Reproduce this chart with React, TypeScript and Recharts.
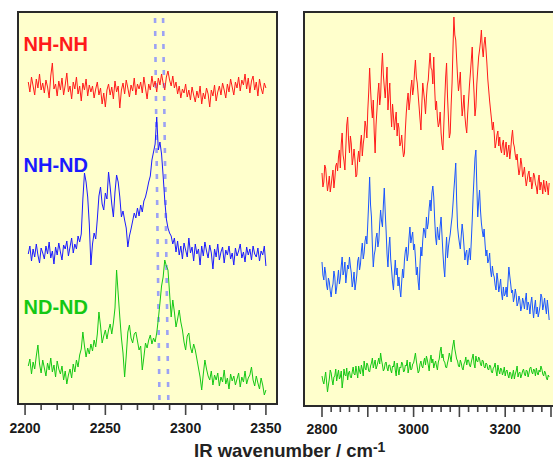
import React from 'react';
import {
  CartesianGrid,
  Line,
  LineChart,
  ReferenceArea,
  ReferenceLine,
  XAxis,
  YAxis,
} from 'recharts';

// left panel: wavenumbers 2202..2350, step 1
const LEFT_START = 2202;
const LEFT_STEP = 1;

// intensities, stacked (height above the panel floor)
const LEFT_NHNH = [
  322, 312, 327, 318, 309, 325, 316, 330, 314, 321,
  311, 324, 317, 306, 328, 341, 315, 320, 308, 323,
  314, 326, 309, 319, 331, 312, 318, 305, 322, 315,
  327, 310, 318, 303, 321, 314, 325, 308, 319, 312,
  318, 306, 315, 322, 309, 316, 300, 311, 297, 314,
  320, 309, 317, 305, 323, 312, 318, 296, 314, 321,
  310, 324, 316, 307, 319, 313, 326, 309, 320, 315,
  322, 311, 327, 316, 305, 320, 314, 328, 317, 323,
  312, 326, 319, 330, 321, 314, 327, 333, 324, 318,
  328, 316, 322, 310, 318, 306, 315, 311, 320, 307,
  314, 304, 317, 309, 302, 313, 306, 318, 300, 311,
  305, 316, 310, 297, 314, 308, 319, 303, 312, 318,
  309, 321, 314, 306, 320, 312, 325, 317, 309, 322,
  316, 327, 313, 324, 319, 330, 315, 326, 311, 323,
  328, 314, 322, 308, 325, 316, 310, 321, 316,
];

const LEFT_NHND = [
  150, 158, 143, 155, 147, 160, 149, 141, 156, 151,
  145, 158, 150, 162, 146, 153, 140, 157, 149, 161,
  152, 144, 159, 155, 163, 148, 157, 166, 151, 160,
  155, 168, 162, 170, 205,
  231, 222, 207, 180, 139, 160, 171, 165, 185, 208,
  217, 200, 194, 211, 205, 232, 217, 200, 187, 212,
  229, 222, 207, 187, 193, 184, 176, 157, 168, 175,
  183, 191, 186, 196, 188, 199, 192, 203, 207, 214,
  222, 228, 244, 252, 260, 287, 254, 262, 250, 228,
  204, 185, 176, 171, 168, 160, 166,
  152, 163, 149, 158, 145, 161, 154, 147, 166, 151,
  157, 143, 160, 150, 155, 139, 158, 148, 162, 153,
  146, 159, 151, 135, 155, 147, 160, 144, 152, 157,
  141, 154, 149, 158, 145, 151, 139, 156, 148, 153,
  160, 146, 152, 142, 157, 149, 155, 144, 158, 150,
  147, 156, 143, 153, 149, 158, 138,
];

const LEFT_NDND = [
  38, 45, 30, 42, 35, 48, 59, 40, 31, 44,
  36, 28, 41, 34, 46, 32, 39, 27, 43, 35,
  30, 38, 24, 33, 20, 29, 35, 26, 40, 32,
  44, 37, 49, 55, 72, 58, 47, 56, 50, 60,
  53, 64, 57, 70, 92, 78, 61, 68, 74, 65,
  74, 80, 70, 81, 96, 134, 110, 87, 66, 51,
  27, 48, 72, 79, 66, 61, 70, 72, 63, 54,
  58, 34, 47, 61, 56, 64, 69, 60, 66, 62,
  71, 85, 101, 118, 127, 144, 138, 134, 111, 87,
  104, 92, 77, 85, 94, 82, 74, 62, 54, 68,
  71, 57, 51, 60, 54, 45, 36, 27, 14, 30,
  44, 35, 28, 24, 33, 19, 29, 24, 31, 18,
  27, 22, 34, 20, 26, 15, 30, 23, 28, 19,
  25, 31, 17, 27, 22, 33, 20, 26, 29, 37,
  24, 18, 28, 21, 15, 26, 19, 9, 14,
];

// right panel: wavenumbers 2800..3296, step 2
const RIGHT_START = 2800;
const RIGHT_STEP = 2;

const RIGHT_NHNH = [
  233, 219, 224, 241, 238, 226, 215, 222, 230, 214, 221, 229, 236, 218, 227, 240, 243, 235, 249, 256,
  238, 262, 273, 251, 245, 236, 258, 281, 289, 266, 253, 270, 262, 241, 248, 257, 246, 229, 231, 247,
  255, 244, 263, 271, 250, 262, 269, 285, 279, 268, 296, 314, 338, 317, 299, 288, 306, 274, 253, 281,
  296, 312, 323, 301, 310, 336, 353, 331, 319, 308, 323, 339, 296, 311, 323, 297, 279, 302, 290, 276,
  286, 294, 270, 283, 278, 260, 263, 271, 258, 249, 253, 276, 293, 305, 313, 296, 305, 318, 326, 311,
  318, 334, 346, 329, 323, 311, 299, 287, 276, 302, 323, 314, 305, 292, 309, 321, 326, 341, 353, 338,
  336, 322, 349, 318, 296, 305, 288, 279, 283, 294, 273, 262, 256, 281, 306, 329, 343, 310, 289, 268,
  273, 301, 323, 358, 389, 371, 366, 347, 329, 315, 323, 334, 309, 290, 299, 311, 290, 280, 273, 292,
  306, 321, 333, 346, 359, 331, 313, 290, 299, 322, 336, 349, 356, 364, 376, 358, 349, 362, 369, 357,
  343, 327, 316, 305, 296, 287, 276, 284, 273, 258, 263, 271, 275, 260, 269, 257, 253, 262, 266, 251,
  258, 264, 249, 255, 261, 247, 256, 268, 276, 263, 259, 251, 246, 252, 240, 231, 236, 248, 242, 229,
  233, 239, 228, 220, 226, 232, 235, 224, 229, 217, 223, 233, 230, 222, 219, 212, 225, 231, 216, 224,
  221, 212, 226, 218, 214, 225, 219, 211, 223,
];

const RIGHT_NHND = [
  144, 131, 126, 139, 133, 121, 116, 128, 124, 115, 109, 118, 122, 135, 129, 112, 118, 127, 136, 122,
  128, 140, 149, 131, 135, 144, 123, 132, 141, 137, 149, 140, 133, 119, 125, 134, 116, 123, 131, 145,
  149, 136, 142, 155, 163, 147, 153, 165, 170, 162, 183, 204, 229, 201, 189, 160, 139, 151, 156, 168,
  173, 159, 165, 182, 196, 185, 179, 201, 218, 194, 175, 152, 139, 158, 169, 147, 136, 124, 116, 132,
  146, 131, 138, 120, 129, 117, 109, 124, 137, 128, 146, 155, 159, 145, 152, 168, 179, 163, 169, 174,
  156, 162, 148, 131, 139, 124, 116, 141, 159, 150, 166, 178, 175, 168, 189, 177, 183, 198, 206, 195,
  213, 220, 209, 187, 169, 161, 179, 170, 166, 180, 189, 171, 153, 139, 129, 152, 169, 148, 159, 166,
  172, 181, 189, 202, 216, 229, 243, 206, 179, 170, 163, 157, 170, 182, 173, 160, 146, 153, 156, 141,
  150, 158, 146, 165, 186, 210, 229, 248, 256, 221, 189, 204, 216, 196, 183, 175, 169, 177, 162, 150,
  156, 143, 146, 153, 136, 129, 140, 132, 129, 121, 116, 133, 126, 114, 120, 127, 113, 106, 119, 110,
  112, 119, 109, 124, 139, 130, 122, 113, 116, 104, 109, 117, 111, 100, 103, 110, 106, 95, 99, 108,
  104, 97, 106, 113, 96, 104, 101, 92, 103, 109, 97, 88, 99, 106, 92, 99, 89, 94, 100, 112,
  109, 96, 101, 108, 99, 92, 106, 97, 86,
];

const RIGHT_NDND = [
  30, 25, 22, 28, 34, 24, 14, 21, 27, 36, 33, 26, 21, 29, 30, 37, 25, 31, 36, 27,
  29, 35, 18, 26, 37, 31, 30, 38, 26, 33, 35, 29, 28, 34, 39, 32, 31, 40, 34, 28,
  40, 35, 32, 41, 37, 30, 45, 38, 36, 43, 41, 35, 34, 40, 43, 48, 38, 42, 46, 37,
  40, 44, 48, 42, 53, 46, 41, 35, 37, 43, 44, 38, 35, 41, 41, 36, 33, 40, 39, 45,
  36, 30, 43, 37, 31, 39, 38, 44, 42, 34, 35, 41, 40, 46, 33, 38, 44, 36, 37, 42,
  43, 48, 53, 45, 39, 33, 35, 42, 45, 40, 38, 44, 48, 41, 50, 46, 41, 35, 46, 51,
  43, 47, 38, 42, 45, 40, 36, 44, 47, 55, 59, 48, 52, 45, 44, 39, 38, 43, 47, 53,
  49, 44, 55, 61, 66, 57, 52, 47, 45, 40, 39, 46, 43, 38, 36, 42, 44, 49, 41, 46,
  46, 41, 39, 44, 48, 52, 42, 38, 50, 45, 44, 49, 47, 42, 40, 46, 45, 39, 38, 43,
  42, 37, 36, 41, 40, 34, 33, 38, 39, 43, 35, 30, 41, 36, 32, 38, 37, 31, 34, 39,
  30, 35, 36, 31, 28, 34, 33, 27, 31, 36, 27, 32, 35, 40, 29, 33, 34, 28, 31, 35,
  37, 32, 30, 36, 35, 29, 33, 38, 39, 34, 32, 37, 36, 30, 38, 33, 31, 36, 34, 40,
  37, 32, 30, 35, 33, 28, 26, 31, 29,
];

const LEFT_TICKS = [
  2200, 2210, 2220, 2230, 2240, 2250, 2260, 2270, 2280, 2290, 2300, 2310,
  2320, 2330, 2340, 2350,
];
const RIGHT_TICKS = [
  2800, 2820, 2840, 2860, 2880, 2900, 2920, 2940, 2960, 2980, 3000, 3020,
  3040, 3060, 3080, 3100, 3120, 3140, 3160, 3180, 3200, 3220, 3240, 3260,
  3280, 3300, 3320,
];

// dotted markers in the left panel (bottom x, top x)
const MARKERS = [
  [2283.7, 2280.9],
  [2289.2, 2285.9],
];

const LABELS = [
  { text: 'NH-NH', color: '#ff1a1a' },
  { text: 'NH-ND', color: '#1a1aff' },
  { text: 'ND-ND', color: '#14c814' },
];

const leftRows = LEFT_NHNH.map((v, i) => ({
  wn: LEFT_START + i * LEFT_STEP,
  nhnh: v,
  nhnd: LEFT_NHND[i],
  ndnd: LEFT_NDND[i],
}));

const rightRows = RIGHT_NHNH.map((v, i) => ({
  wn: RIGHT_START + i * RIGHT_STEP,
  nhnh: v,
  nhnd: RIGHT_NHND[i],
  ndnd: RIGHT_NDND[i],
}));

const FONT = '"Liberation Sans", Arial, Helvetica, sans-serif';

const makeTick =
  (majorEvery: number, labelEvery: number, dy: number) => (props: any) => {
    const { x, y, payload } = props;
    const v = payload.value;
    const major = v % majorEvery === 0;
    return (
      <g>
        <line
          x1={x}
          x2={x}
          y1={y + 1}
          y2={y + (major ? 11 : 6)}
          stroke="#444"
          strokeWidth={1.6}
        />
        {v % labelEvery === 0 && (
          <text
            x={x}
            y={y + dy}
            textAnchor="middle"
            fontFamily={FONT}
            fontWeight="bold"
            fontSize={14}
            fill="#1a1a1a"
          >
            {v}
          </text>
        )}
      </g>
    );
  };

const LEFT_DOMAIN = [2195.6, 2356.9];
const RIGHT_DOMAIN = [2760.7, 3326.2];

export default function App() {
  return (
    <div
      style={{
        position: 'absolute',
        left: 0,
        top: 0,
        width: 553,
        height: 460,
        overflow: 'hidden',
        background: '#fff',
      }}
    >
      <div style={{ position: 'absolute', left: 0, top: 0 }}>
        <LineChart
          width={290}
          height={460}
          data={leftRows}
          margin={{ top: 12, right: 13, bottom: 26, left: 18 }}
        >
          <CartesianGrid
            horizontal={false}
            vertical={false}
            fill="#ffffcc"
            fillOpacity={1}
          />
          <XAxis
            dataKey="wn"
            type="number"
            domain={LEFT_DOMAIN}
            ticks={LEFT_TICKS}
            interval={0}
            allowDataOverflow
            axisLine={false}
            tickLine={false}
            tickSize={0}
            tickMargin={0}
            height={30}
            tick={makeTick(50, 50, 29)}
          />
          <YAxis hide type="number" domain={[0, 392]} allowDataOverflow />
          {MARKERS.map(([b, t], i) => (
            <ReferenceLine
              key={i}
              segment={[
                { x: b, y: 4 },
                { x: t, y: 392 },
              ]}
              stroke="#9ca2f4"
              strokeWidth={2.6}
              strokeDasharray="5 8"
              ifOverflow="visible"
            />
          ))}
          <Line
            dataKey="nhnh"
            stroke="#ff1a1a"
            strokeWidth={1}
            dot={false}
            isAnimationActive={false}
          />
          <Line
            dataKey="nhnd"
            stroke="#1a1aff"
            strokeWidth={1}
            dot={false}
            isAnimationActive={false}
          />
          <Line
            dataKey="ndnd"
            stroke="#14c814"
            strokeWidth={1}
            dot={false}
            isAnimationActive={false}
          />
          <ReferenceArea
            x1={LEFT_DOMAIN[0]}
            x2={LEFT_DOMAIN[1]}
            y1={0}
            y2={392}
            fill="none"
            stroke="#2a2a2a"
            strokeWidth={2}
            ifOverflow="visible"
          />
        </LineChart>
      </div>

      <div style={{ position: 'absolute', left: 290, top: 0 }}>
        <LineChart
          width={300}
          height={460}
          data={rightRows}
          margin={{ top: 12, right: 27, bottom: 24, left: 14 }}
        >
          <CartesianGrid
            horizontal={false}
            vertical={false}
            fill="#ffffcc"
            fillOpacity={1}
          />
          <XAxis
            dataKey="wn"
            type="number"
            domain={RIGHT_DOMAIN}
            ticks={RIGHT_TICKS}
            interval={0}
            allowDataOverflow
            axisLine={false}
            tickLine={false}
            tickSize={0}
            tickMargin={0}
            height={30}
            tick={makeTick(100, 200, 28)}
          />
          <YAxis hide type="number" domain={[0, 394]} allowDataOverflow />
          <Line
            dataKey="nhnh"
            stroke="#ff1a1a"
            strokeWidth={1}
            dot={false}
            isAnimationActive={false}
          />
          <Line
            dataKey="nhnd"
            stroke="#1a55ff"
            strokeWidth={1}
            dot={false}
            isAnimationActive={false}
          />
          <Line
            dataKey="ndnd"
            stroke="#14c814"
            strokeWidth={1}
            dot={false}
            isAnimationActive={false}
          />
          <ReferenceArea
            x1={RIGHT_DOMAIN[0]}
            x2={RIGHT_DOMAIN[1]}
            y1={0}
            y2={394}
            fill="none"
            stroke="#2a2a2a"
            strokeWidth={2}
            ifOverflow="visible"
          />
        </LineChart>
      </div>

      <svg
        width={553}
        height={460}
        style={{ position: 'absolute', left: 0, top: 0, pointerEvents: 'none' }}
      >
        {LABELS.map((l, i) => (
          <text
            key={l.text}
            x={23.5}
            y={[51, 171.5, 314][i]}
            fontFamily={FONT}
            fontWeight="bold"
            fontSize={20}
            fill={l.color}
          >
            {l.text}
          </text>
        ))}
        <text
          x={194}
          y={456.5}
          fontFamily={FONT}
          fontWeight="bold"
          fontSize={18.5}
          fill="#222"
        >
          IR wavenumber / cm
          <tspan fontSize={14} dy={-5}>
            -1
          </tspan>
        </text>
      </svg>
    </div>
  );
}
